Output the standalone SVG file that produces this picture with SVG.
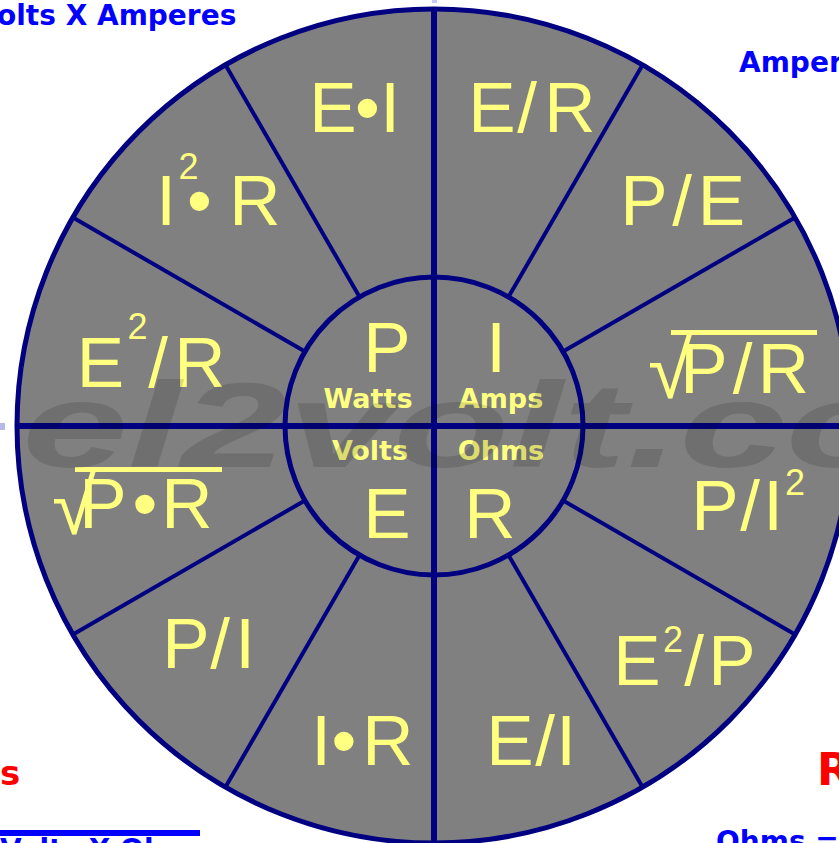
<svg xmlns="http://www.w3.org/2000/svg" width="839" height="843" viewBox="0 0 839 843">
<defs>
<style>
.ln{stroke:#000080;fill:none}
.rad{stroke:#000080;stroke-width:4}
.f{font-family:"Liberation Sans",Arial,sans-serif;fill:#ffff80;font-size:71px;text-anchor:middle}
.sup{font-size:36px}
.rt{font-family:"Liberation Sans",Arial,sans-serif;fill:#ffff80;font-size:80px}
.bar{fill:#ffff80}
.lbl{font-family:"DejaVu Sans",Verdana,sans-serif;font-weight:bold;font-size:27px;fill:#ffff80;text-anchor:middle}
.blue{font-family:"DejaVu Sans",Verdana,sans-serif;font-weight:bold;font-size:28px;fill:#0000ff}
.red{font-family:"DejaVu Sans",Verdana,sans-serif;font-weight:bold;font-size:44px;fill:#ff0000}
.wm{font-family:"Liberation Sans",Arial,sans-serif;font-weight:bold;font-style:italic;font-size:120px;fill:#000;opacity:0.13}
</style>
</defs>
<rect width="839" height="843" fill="#fff"/>
<rect x="432" y="0" width="5" height="3" fill="#c8c8ff"/>
<rect x="0" y="423" width="5" height="7" fill="#b8b8e8"/>

<g id="captions">
<text class="blue" x="-3" y="25">olts X Amperes</text>
<text class="blue" x="739" y="72">Amperes</text>
<text class="red" x="0" y="785" style="font-size:34px">s</text>
<text class="red" x="817" y="785">R</text>
<rect x="0" y="830" width="200" height="6" fill="#0000ff"/>
<text class="blue" x="0" y="859">Volts X Ohms</text>
<text class="blue" x="716" y="851">Ohms =</text>
</g>

<g id="wheel">
<circle cx="434" cy="426" r="417" fill="#808080" stroke="#000080" stroke-width="5"/>
</g>

<g id="connectors">
<line class="ln" x1="434" y1="8" x2="434" y2="843" stroke-width="6"/>
<line class="ln" x1="15" y1="426" x2="839" y2="426" stroke-width="6"/>
<line class="rad" x1="563.9" y1="501" x2="795.1" y2="634.5"/>
<line class="rad" x1="509" y1="555.9" x2="642.5" y2="787.1"/>
<line class="rad" x1="359" y1="555.9" x2="225.5" y2="787.1"/>
<line class="rad" x1="304.1" y1="501" x2="72.9" y2="634.5"/>
<line class="rad" x1="304.1" y1="351" x2="72.9" y2="217.5"/>
<line class="rad" x1="359" y1="296.1" x2="225.5" y2="64.9"/>
<line class="rad" x1="509" y1="296.1" x2="642.5" y2="64.9"/>
<line class="rad" x1="563.9" y1="351" x2="795.1" y2="217.5"/>
<circle class="ln" cx="434" cy="426" r="149" stroke-width="5"/>
</g>

<g id="center">
<text class="f" y="372"><tspan x="387">P</tspan><tspan x="496">I</tspan></text>
<text class="lbl" x="368" y="408">Watts</text>
<text class="lbl" x="501" y="408">Amps</text>
<text class="lbl" x="370" y="460">Volts</text>
<text class="lbl" x="501" y="460">Ohms</text>
<text class="f" y="538"><tspan x="387">E</tspan><tspan x="490">R</tspan></text>
</g>

<g id="p-ei"><text class="f" y="132"><tspan x="333">E</tspan><tspan x="367.5">•</tspan><tspan x="390">I</tspan></text></g>
<g id="i-er"><text class="f" y="132"><tspan x="492">E</tspan><tspan x="527">/</tspan><tspan x="570">R</tspan></text></g>
<g id="p-i2r"><text class="f" y="225"><tspan x="166">I</tspan><tspan x="199.5">•</tspan><tspan x="255">R</tspan></text><text class="f sup" x="188.5" y="179">2</text></g>
<g id="i-pe"><text class="f" y="225"><tspan x="644">P</tspan><tspan x="682">/</tspan><tspan x="721.5">E</tspan></text></g>
<g id="p-e2r"><text class="f" y="387"><tspan x="100.5">E</tspan><tspan x="158">/</tspan><tspan x="200">R</tspan></text><text class="f sup" x="137.5" y="339">2</text></g>
<g id="i-sqrtpr"><text class="rt" x="648" y="398">√</text><rect class="bar" x="671" y="330" width="146" height="5"/><text class="f" y="393"><tspan x="704">P</tspan><tspan x="742.5">/</tspan><tspan x="783.5">R</tspan></text></g>
<g id="e-sqrtpr"><text class="rt" x="52" y="534">√</text><rect class="bar" x="75" y="467" width="147" height="5"/><text class="f" y="528"><tspan x="103">P</tspan><tspan x="145">•</tspan><tspan x="187">R</tspan></text></g>
<g id="r-pi2"><text class="f" y="530"><tspan x="715">P</tspan><tspan x="750">/</tspan><tspan x="773">I</tspan></text><text class="f sup" x="795" y="495">2</text></g>
<g id="e-pi"><text class="f" y="668"><tspan x="186">P</tspan><tspan x="220">/</tspan><tspan x="245">I</tspan></text></g>
<g id="r-e2p"><text class="f" y="685"><tspan x="637">E</tspan><tspan x="694">/</tspan><tspan x="732">P</tspan></text><text class="f sup" x="673" y="652">2</text></g>
<g id="e-ir"><text class="f" y="765"><tspan x="321">I</tspan><tspan x="344">•</tspan><tspan x="388">R</tspan></text></g>
<g id="r-ei"><text class="f" y="765"><tspan x="510">E</tspan><tspan x="545">/</tspan><tspan x="566">I</tspan></text></g>

<text class="wm" x="22" y="467" textLength="880" lengthAdjust="spacingAndGlyphs">el2volt.co</text>
</svg>
